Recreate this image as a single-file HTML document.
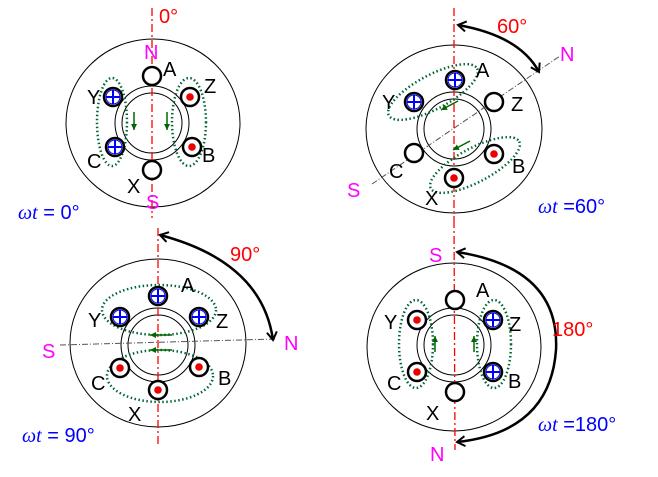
<!DOCTYPE html>
<html><head><meta charset="utf-8"><style>
html,body{margin:0;padding:0;background:#fff;width:658px;height:477px;overflow:hidden}
text{font-family:"Liberation Sans",sans-serif}
</style></head><body>
<svg width="658" height="477" viewBox="0 0 658 477" xmlns="http://www.w3.org/2000/svg">
<defs>
<g id="plus"><circle r="9" fill="#fff" stroke="#000" stroke-width="2.5"/><path d="M-7 0H7M0 -7V7" stroke="#00f" stroke-width="2"/><circle r="7" fill="none" stroke="#00f" stroke-width="1"/></g>
<g id="dot"><circle r="9" fill="#fff" stroke="#000" stroke-width="2.5"/><circle r="3.8" fill="#e00"/></g>
<g id="emp"><circle r="9" fill="#fff" stroke="#000" stroke-width="2.5"/></g>
<marker id="ah" markerWidth="12" markerHeight="12" refX="9" refY="6" orient="auto-start-reverse" markerUnits="userSpaceOnUse"><path d="M1 1L9 6L1 11" fill="none" stroke="#000" stroke-width="2"/></marker>
<marker id="ga" markerWidth="8" markerHeight="8" refX="6" refY="4" orient="auto" markerUnits="userSpaceOnUse"><path d="M0 1L6 4L0 7Z" fill="#060"/></marker>
</defs>
<g fill="none" stroke="#000" stroke-width="1">
<ellipse cx="153" cy="123" rx="87" ry="84"/><circle cx="152" cy="123" r="37"/><circle cx="152" cy="123" r="30"/>
<ellipse cx="454" cy="129" rx="88" ry="84"/><circle cx="454" cy="129" r="37"/><circle cx="454" cy="129" r="30"/>
<ellipse cx="158" cy="343" rx="88" ry="84"/><circle cx="158" cy="345" r="37"/><circle cx="158" cy="345" r="30"/>
<ellipse cx="454" cy="347" rx="87" ry="84"/><circle cx="454" cy="345" r="37"/><circle cx="454" cy="345" r="30"/>
</g>
<g stroke="#f00" stroke-width="1.3" stroke-dasharray="8 3 2 3">
<line x1="152" y1="8" x2="152" y2="218"/><line x1="158" y1="228" x2="158" y2="447"/>
<line x1="454" y1="8" x2="454" y2="220"/><line x1="454" y1="220" x2="455" y2="450"/>
</g>
<g stroke="#555" stroke-width="1" stroke-dasharray="6 2 1 2">
<line x1="372" y1="184" x2="560" y2="56"/>
<line x1="60" y1="345" x2="276" y2="339"/>
</g>
<g fill="none" stroke="#063" stroke-width="2.5" stroke-dasharray="1.5 2.5">
<ellipse cx="112" cy="122" rx="15" ry="44"/><ellipse cx="189" cy="122" rx="17" ry="44"/>
<ellipse cx="433" cy="92" rx="50" ry="17" transform="rotate(-28 433 92)"/>
<ellipse cx="475" cy="165" rx="50" ry="17" transform="rotate(-28 475 165)"/>
<ellipse cx="159" cy="310" rx="57" ry="25"/><ellipse cx="160" cy="376" rx="53" ry="26"/>
<ellipse cx="416" cy="344" rx="17" ry="44"/><ellipse cx="494" cy="344" rx="17" ry="44"/>
</g>
<g stroke="#060" stroke-width="1.5" marker-end="url(#ga)">
<line x1="134" y1="112" x2="134" y2="130"/><line x1="167" y1="112" x2="167" y2="130"/>
<line x1="458" y1="101" x2="441" y2="110"/><line x1="470" y1="141" x2="453" y2="150"/>
<line x1="172" y1="335" x2="150" y2="335"/><line x1="172" y1="350" x2="150" y2="350"/>
<line x1="435" y1="352" x2="435" y2="336"/><line x1="474" y1="352" x2="474" y2="336"/>
</g>
<use href="#emp" x="152" y="76"/><use href="#plus" x="113" y="97"/><use href="#dot" x="190" y="97"/>
<use href="#plus" x="115" y="147"/><use href="#dot" x="192" y="147"/><use href="#emp" x="152" y="170"/>
<use href="#plus" x="455" y="80"/><use href="#plus" x="414" y="102"/><use href="#emp" x="494" y="102"/>
<use href="#emp" x="414" y="153"/><use href="#dot" x="494" y="154"/><use href="#dot" x="454" y="178"/>
<use href="#plus" x="158" y="296"/><use href="#plus" x="120" y="317"/><use href="#plus" x="199" y="317"/>
<use href="#dot" x="120" y="368"/><use href="#dot" x="199" y="367"/><use href="#dot" x="158" y="390"/>
<use href="#emp" x="455" y="300"/><use href="#dot" x="417" y="320"/><use href="#plus" x="493" y="320"/>
<use href="#dot" x="417" y="372"/><use href="#plus" x="493" y="372"/><use href="#emp" x="455" y="392"/>
<g fill="none" stroke="#000" stroke-width="2.5">
<path d="M458 25 Q520 36 539 72" marker-end="url(#ah)" marker-start="url(#ah)"/>
<path d="M160 235 Q262 262 273 340" marker-end="url(#ah)" marker-start="url(#ah)"/>
<path d="M457 252 Q560 268 556 350 Q550 432 457 442" marker-end="url(#ah)" marker-start="url(#ah)"/>
</g>
<g font-size="20" fill="#000">
<text x="163" y="76">A</text><text x="87" y="104">Y</text><text x="204" y="93">Z</text><text x="87" y="168">C</text><text x="202" y="162">B</text><text x="127" y="193">X</text>
<text x="476" y="77">A</text><text x="382" y="109">Y</text><text x="511" y="111">Z</text><text x="389" y="178">C</text><text x="512" y="173">B</text><text x="425" y="205">X</text>
<text x="181" y="292">A</text><text x="88" y="327">Y</text><text x="216" y="328">Z</text><text x="91" y="390">C</text><text x="218" y="385">B</text><text x="128" y="421">X</text>
<text x="476" y="297">A</text><text x="384" y="329">Y</text><text x="509" y="331">Z</text><text x="387" y="390">C</text><text x="508" y="388">B</text><text x="426" y="420">X</text>
</g>
<g font-size="20" fill="#f0f">
<text x="144" y="59">N</text><text x="146" y="209">S</text>
<text x="560" y="61">N</text><text x="347" y="197">S</text>
<text x="42" y="358">S</text><text x="284" y="350">N</text>
<text x="429" y="262">S</text><text x="430" y="461">N</text>
</g>
<g font-size="20" fill="#f00">
<text x="159" y="23">0°</text><text x="497" y="33">60°</text><text x="230" y="261">90°</text><text x="552" y="336">180°</text>
</g>
<g font-size="20" fill="#00f">
<text x="18" y="219"><tspan font-family="Liberation Serif" font-style="italic">ωt</tspan> = 0°</text>
<text x="538" y="213"><tspan font-family="Liberation Serif" font-style="italic">ωt</tspan> =60°</text>
<text x="22" y="442"><tspan font-family="Liberation Serif" font-style="italic">ωt</tspan> = 90°</text>
<text x="538" y="431"><tspan font-family="Liberation Serif" font-style="italic">ωt</tspan> =180°</text>
</g>
</svg>
</body></html>
